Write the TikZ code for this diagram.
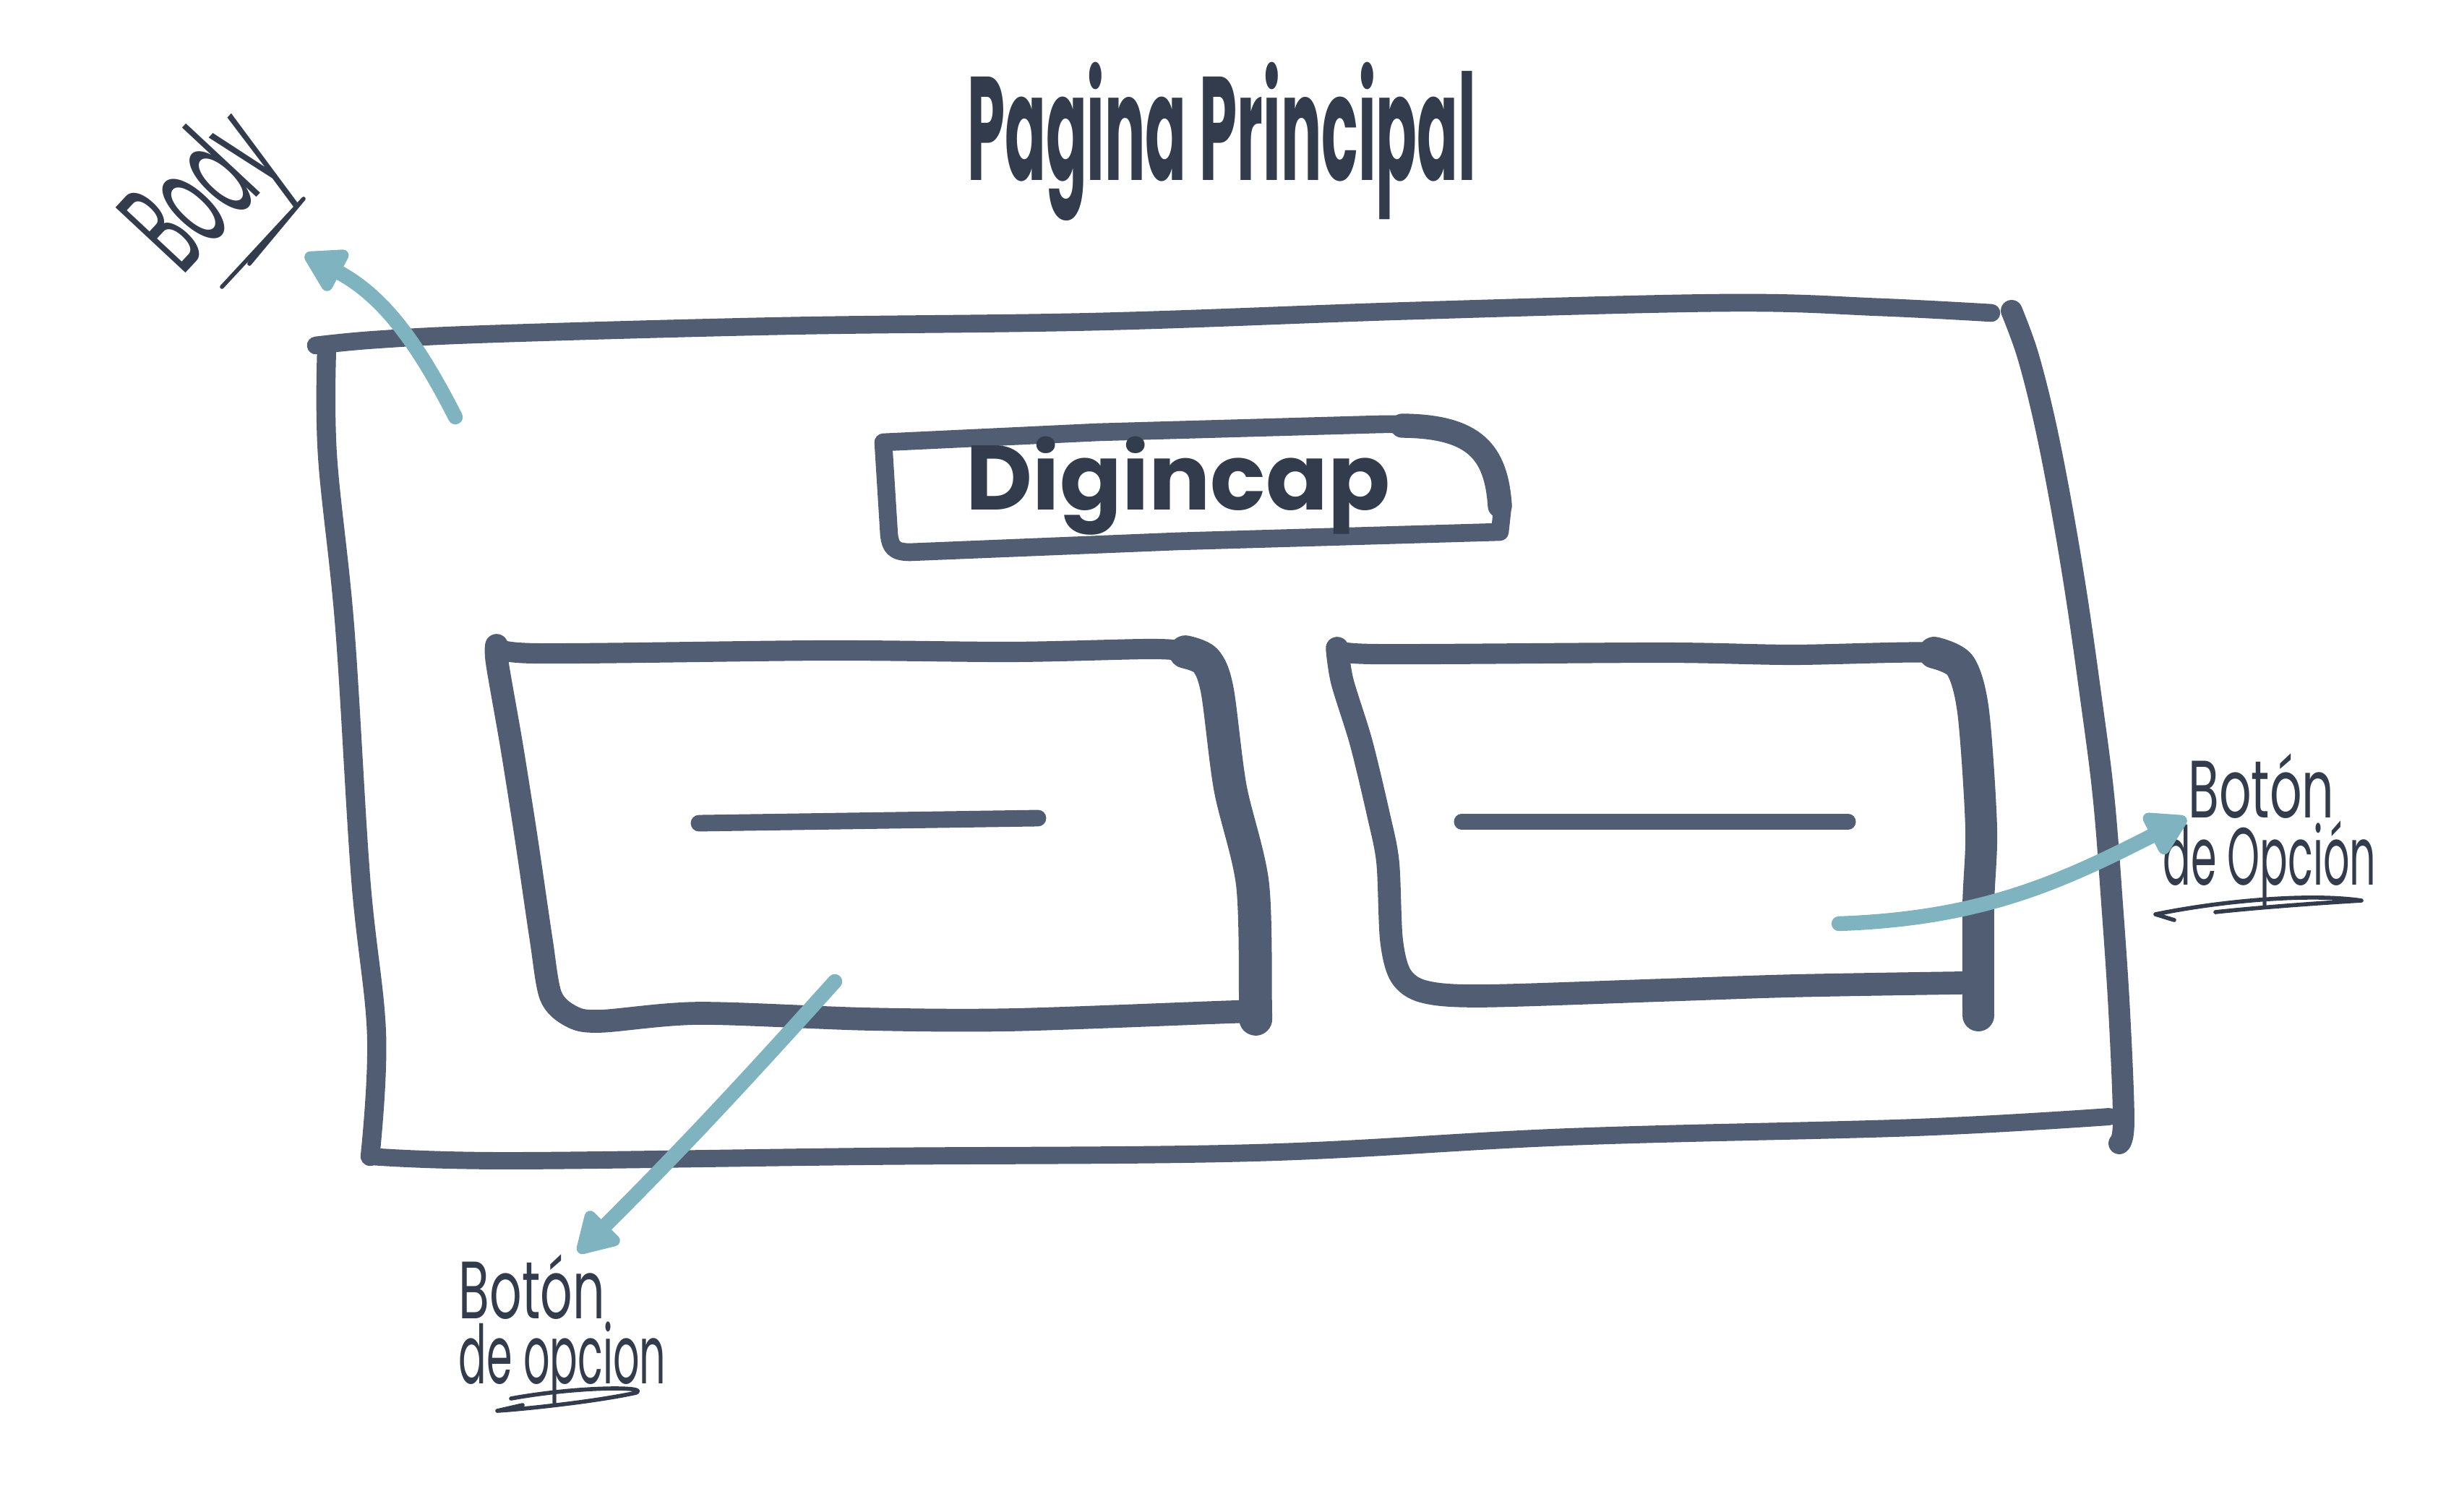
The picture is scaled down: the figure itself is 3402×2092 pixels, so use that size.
\documentclass[tikz,border=0pt]{standalone}
\usepackage{fontspec}
\setmainfont{Poppins}
\usepackage{graphicx}
\usepackage{tikz}
\usetikzlibrary{positioning,arrows.meta}

\definecolor{slate}{HTML}{505D73}
\definecolor{ink}{HTML}{323C4C}
\definecolor{sea}{HTML}{7FB3C0}

\begin{document}
\begin{tikzpicture}[x=0.01cm, y=-0.01cm, line cap=round, line join=round,
    pen/.style={draw=slate, line width=#1}, pen/.default=8pt,
    hand/.style={text=ink, inner sep=0pt, xscale=#1}, hand/.default=0.62,
    scrawl/.style={draw=ink, line width=1.6pt},
    pointer/.style={draw=sea, line width=5.8pt,
      -{Triangle[round,length=18pt,width=20pt]}}]
  \useasboundingbox (0,0) rectangle (3402,2092);

  % page frame (body)
  \draw[pen=7pt] plot[smooth, tension=0.6] coordinates {(437,478) (520,470)
    (680,462) (1085,451) (1519,445) (1953,430) (2387,419) (2600,425) (2755,433)};
  \draw[pen=7.5pt] plot[smooth, tension=0.6] coordinates {(452,483) (453,630)
    (477,868) (499,1215) (521,1432) (512,1600)};
  \draw[pen=6.8pt] plot[smooth, tension=0.6] coordinates {(512,1600) (700,1606)
    (1200,1600) (1736,1595) (2170,1573) (2650,1560) (2918,1545)};
  \draw[pen=8.5pt] plot[smooth, tension=0.6] coordinates {(2783,430) (2805,490)
    (2828,580) (2850,690) (2872,820) (2892,960) (2910,1100) (2922,1250)
    (2932,1400) (2938,1550) (2932,1582)};

  % header box
  \draw[pen=7pt] (1222,612) -- (1519,598) -- (1910,587)
    .. controls (2040,585) and (2074,620) .. (2079,700) -- (2075,736)
    -- (1628,749) -- (1259,764)
    .. controls (1236,764) and (1232,756) .. (1230,740) -- cycle;
  \draw[pen=9.5pt] (1940,589) .. controls (2040,590) and (2070,625) .. (2075,700);
  \node[hand=1, font=\fontsize{36}{40}\selectfont\bfseries] (brand)
    at (1630,672) {Digincap};

  % left option button
  \draw[pen=8pt] plot[smooth, tension=0.5] coordinates {(687,893) (740,904)
    (1140,900) (1400,902) (1591,898) (1640,902) (1668,914)};
  \draw[pen=13pt] plot[smooth, tension=0.5] coordinates {(1640,902) (1668,914)
    (1684,955) (1702,1090) (1733,1224) (1737,1396) (1737,1405)};
  \draw[pen=9pt] plot[smooth, tension=0.5] coordinates {(687,893) (688,918)
    (707,1027) (723,1127) (733,1193) (749,1302) (762,1378) (790,1406)
    (830,1413) (967,1402) (1200,1410) (1400,1411) (1706,1400) (1735,1400)};
  \draw[pen=6.5pt] (967,1139) -- (1436,1132);

  % right option button
  \draw[pen=8pt] plot[smooth, tension=0.5] coordinates {(1850,897) (1900,905)
    (2300,903) (2480,906) (2676,903) (2712,921)};
  \draw[pen=12.5pt] plot[smooth, tension=0.5] coordinates {(2676,903) (2712,921)
    (2730,985) (2741,1146) (2737,1253) (2737,1405)};
  \draw[pen=9pt] plot[smooth, tension=0.5] coordinates {(1850,897) (1857,943)
    (1883,1027) (1907,1127) (1920,1193) (1925,1300) (1938,1350) (1970,1372)
    (2050,1378) (2300,1370) (2480,1364) (2709,1360) (2735,1360)};
  \draw[pen=6pt] (2022,1137) -- (2557,1137);

  % handwritten labels
  \node[hand=0.41, font=\fontsize{58}{60}\selectfont\bfseries] (title)
    at (1690,196) {Pagina Principal};
  \node[rotate=47, hand=0.45, anchor=base west,
    font=\fontsize{54}{56}\selectfont] (body) at (252,383) {Body};
  \node[hand, align=left, font=\fontsize{32}{22}\selectfont] (leftlbl)
    at (778,1840) {Botón\\\scalebox{0.82}[1]{de opcion}};
  \node[hand, align=left, font=\fontsize{32}{22}\selectfont] (rightlbl)
    at (3140,1148) {\hspace*{0.5em}Botón\\\scalebox{0.82}[1]{de Opción}};
  \draw[scrawl] (307,397) -- (420,275) -- (345,365);
  \draw[scrawl] (707,1935) .. controls (800,1918) and (900,1918) .. (880,1927)
    .. controls (820,1940) and (720,1950) .. (688,1952) -- (723,1944);
  \draw[scrawl] (3008,1273) -- (2982,1265) .. controls (3080,1245) and (3200,1236)
    .. (3267,1246) .. controls (3200,1250) and (3120,1256) .. (3065,1262);

  % pointers
  \coordinate (bodyfrom) at (630,577);
  \coordinate (bodytip) at (422,352);
  \coordinate (leftfrom) at (1155,1358);
  \coordinate (lefttip) at (800,1733);
  \coordinate (rightfrom) at (2544,1278);
  \coordinate (righttip) at (3025,1132);
  \draw[pointer] (bodyfrom) to[out=117, in=-28] (bodytip);
  \draw[pointer] (leftfrom) to[out=228, in=45] (lefttip);
  \draw[pointer] (rightfrom) to[out=2, in=207] (righttip);
\end{tikzpicture}
\end{document}
